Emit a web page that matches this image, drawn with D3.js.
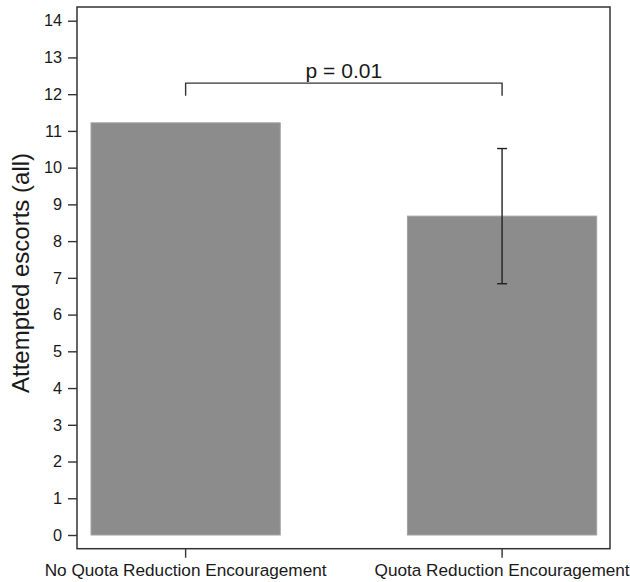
<!DOCTYPE html>
<html>
<head>
<meta charset="utf-8">
<script src="https://cdn.jsdelivr.net/npm/d3@7"></script>
<style>
  html, body { margin: 0; padding: 0; background: #fff; }
  svg text { font-family: "Liberation Sans", Arial, Helvetica, sans-serif; fill: #1a1a1a; }
</style>
</head>
<body>
<svg id="chart" width="630" height="582"></svg>
<script>
// Mean attempted escorts per condition, with a confidence interval on the second group
const categories = ["No Quota Reduction Encouragement", "Quota Reduction Encouragement"];
const means = [11.22, 8.68];
const ciLow = [null, 6.84];
const ciHigh = [null, 10.52];
const yTicks = [0, 1, 2, 3, 4, 5, 6, 7, 8, 9, 10, 11, 12, 13, 14];
const pLabel = "p = 0.01";
const bracketLevel = 12.3;
const yTitle = "Attempted escorts (all)";

const svg = d3.select("#chart");

const frame = { left: 77, right: 610, top: 7, bottom: 548.7 };

const x = d3.scaleBand()
  .domain(categories)
  .range([91, 596.7])
  .paddingInner(0.402)
  .paddingOuter(0);

const y = d3.scaleLinear()
  .domain([0, 14])
  .range([535, 20.7]);

// Bars
svg.append("g")
  .selectAll("rect")
  .data(categories)
  .join("rect")
  .attr("x", d => x(d))
  .attr("width", x.bandwidth())
  .attr("y", (d, i) => y(means[i]))
  .attr("height", (d, i) => y(0) - y(means[i]))
  .attr("fill", "#8c8c8c")
  .attr("stroke", "#a2a2a2")
  .attr("stroke-width", 1);

// Error bars
const eb = svg.append("g").attr("stroke", "#222").attr("stroke-width", 1.4);
categories.forEach((c, i) => {
  if (ciLow[i] == null) return;
  const cx = x(c) + x.bandwidth() / 2;
  eb.append("line").attr("x1", cx).attr("x2", cx).attr("y1", y(ciLow[i])).attr("y2", y(ciHigh[i]));
  [ciLow[i], ciHigh[i]].forEach(v => {
    eb.append("line").attr("x1", cx - 5).attr("x2", cx + 5).attr("y1", y(v)).attr("y2", y(v));
  });
});

// Frame
svg.append("rect")
  .attr("x", frame.left)
  .attr("y", frame.top)
  .attr("width", frame.right - frame.left)
  .attr("height", frame.bottom - frame.top)
  .attr("fill", "none")
  .attr("stroke", "#333")
  .attr("stroke-width", 1.5);

// Y axis
const yAxis = svg.append("g")
  .attr("transform", `translate(${frame.left},0)`)
  .call(d3.axisLeft(y).tickValues(yTicks).tickSize(9).tickPadding(6).tickFormat(d3.format("d")));
yAxis.select(".domain").remove();
yAxis.selectAll(".tick line").attr("stroke", "#333").attr("stroke-width", 1.4);
yAxis.selectAll(".tick text").attr("font-size", 16.3).attr("fill", "#1a1a1a");

// X axis
const xAxis = svg.append("g")
  .attr("transform", `translate(0,${frame.bottom})`)
  .call(d3.axisBottom(x).tickSize(9).tickPadding(6));
xAxis.select(".domain").remove();
xAxis.selectAll(".tick line").attr("stroke", "#333").attr("stroke-width", 1.4);
xAxis.selectAll(".tick text").attr("font-size", 17.2).attr("fill", "#1a1a1a");

// Y axis title
svg.append("text")
  .attr("transform", `translate(29,273) rotate(-90)`)
  .attr("text-anchor", "middle")
  .attr("font-size", 24)
  .text(yTitle);

// Significance bracket
const xa = x(categories[0]) + x.bandwidth() / 2;
const xb = x(categories[1]) + x.bandwidth() / 2;
const yb = y(bracketLevel);
svg.append("path")
  .attr("d", `M${xa},${yb + 12.5}V${yb}H${xb}V${yb + 12.5}`)
  .attr("fill", "none")
  .attr("stroke", "#333")
  .attr("stroke-width", 1.4);
svg.append("text")
  .attr("x", (xa + xb) / 2)
  .attr("y", yb - 5.5)
  .attr("text-anchor", "middle")
  .attr("font-size", 21)
  .text(pLabel);
</script>
</body>
</html>
